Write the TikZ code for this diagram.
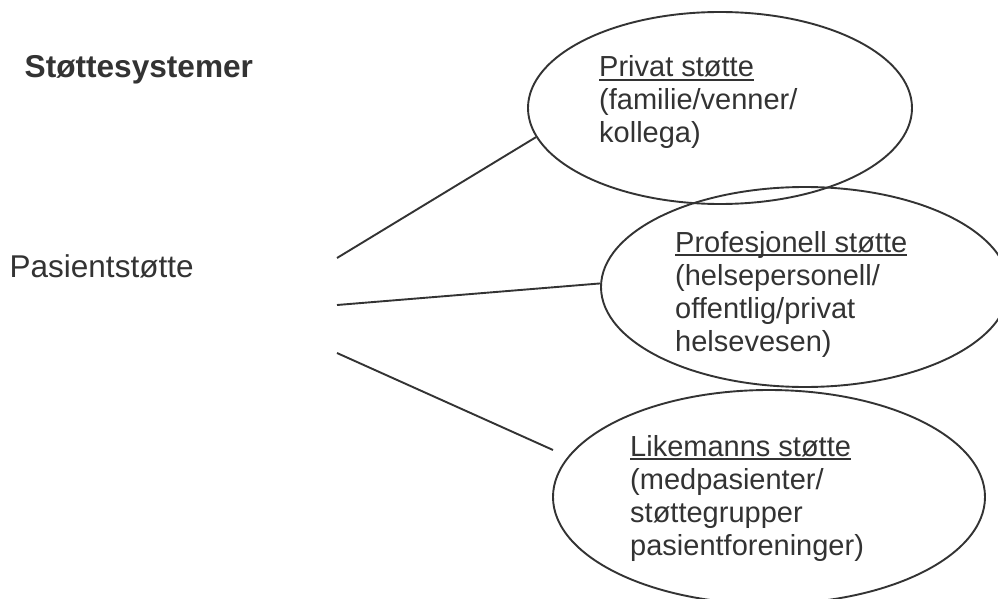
\documentclass[tikz,border=0pt]{standalone}
\usepackage{fontspec}
\setmainfont{Liberation Sans}
\usetikzlibrary{shapes.geometric}
\definecolor{ink}{RGB}{51,51,51}
\newcommand{\myul}[1]{\setbox0\hbox{#1}\rlap{\vrule height -1.8pt depth 4.2pt width \wd0}\box0}
\begin{document}
\begin{tikzpicture}[x=1pt,y=-1pt,
  bubble/.style={draw=ink,line width=1.9pt,ellipse,inner sep=0pt},
  lab/.style={text=ink,inner sep=0pt,anchor=base west,font=\fontsize{29}{33}\selectfont},
  link/.style={draw=ink,line width=1.9pt}]
\clip (0,0) rectangle (998,599);
\fill[white] (0,0) rectangle (998,599);
% ellipses
\node[bubble,minimum width=384pt,minimum height=192pt] (e1) at (720,108) {};
\node[bubble,minimum width=408pt,minimum height=200pt] (e2) at (805,287) {};
\node[bubble,minimum width=432pt,minimum height=214pt] (e3) at (769,497) {};
% texts
\node[lab,font=\bfseries\fontsize{31.6}{36}\selectfont] (title) at (24.5,78) {Støttesystemer};
\node[lab,font=\fontsize{31.5}{36}\selectfont] (root) at (9.5,277) {Pasientstøtte};
\node[lab] (t1) at (599,77) {\begin{tabular}[t]{@{}l@{}}\myul{Privat støtte}\\(familie/venner/\\kollega)\end{tabular}};
\node[lab] (t2) at (675,252) {\begin{tabular}[t]{@{}l@{}}\myul{Profesjonell støtte}\\(helsepersonell/\\offentlig/privat\\helsevesen)\end{tabular}};
\node[lab] (t3) at (630,456) {\begin{tabular}[t]{@{}l@{}}\myul{Likemanns støtte}\\(medpasienter/\\støttegrupper\\pasientforeninger)\end{tabular}};
% connectors
\coordinate (s1) at (337,258);
\coordinate (s2) at (337,305);
\coordinate (s3) at (337,353);
\coordinate (f3) at (553,450);
\draw[link] (s1) -- (e1.189);
\draw[link] (s2) -- (e2.179);
\draw[link] (s3) -- (f3);
\end{tikzpicture}
\end{document}
